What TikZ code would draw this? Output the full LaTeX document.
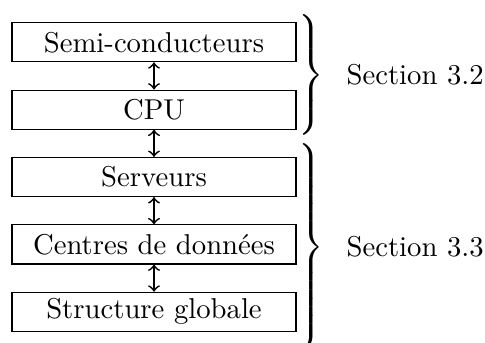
\documentclass[tikz,border=0pt]{standalone}
\usetikzlibrary{positioning}

\tikzset{
  layer/.style={draw, line width=0.4pt, minimum width=98.9pt, minimum height=13.6pt,
    inner xsep=2pt, inner ysep=1pt, anchor=center},
  link/.style={<->, line width=0.6pt},
  bracebox/.style={inner sep=0pt, anchor=west},
  tag/.style={inner sep=0pt, anchor=west}
}
% right brace of total height about 2*#1, centred on the node
\newcommand{\sectbrace}[1]{$\delimiterfactor=1000\delimitershortfall=0pt
  \left.\vcenter{\hbox{\vrule height #1 depth #1 width 0pt}}\right\}$}

\begin{document}
\begin{tikzpicture}[x=0.3484pt, y=-0.3484pt]
  \useasboundingbox (0,0) rectangle (485,342);

  % stacked layers
  \node[layer] (semi) at (154,42.2) {Semi-conducteurs};
  \node[layer] (cpu)  at (154,109.6) {CPU};
  \node[layer] (serv) at (154,177) {Serveurs};
  \node[layer] (dc)   at (154,244.4) {Centres de donn\'ees};
  \node[layer] (glob) at (154,311.8) {Structure globale};

  % links between neighbouring layers
  \draw[link] (semi) -- (cpu);
  \draw[link] (cpu) -- (serv);
  \draw[link] (serv) -- (dc);
  \draw[link] (dc) -- (glob);

  % section braces and labels
  \node[bracebox] (b32) at (294,75) {\sectbrace{20.4pt}};
  \node[bracebox] (b33) at (294,247) {\sectbrace{33.6pt}};
  \node[tag] (s32) at (346,75) {Section 3.2};
  \node[tag] (s33) at (346,247) {Section 3.3};
\end{tikzpicture}
\end{document}
